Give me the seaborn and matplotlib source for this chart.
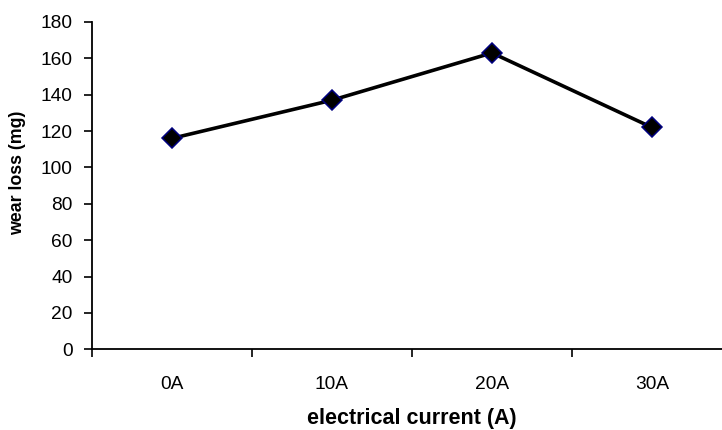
import matplotlib
matplotlib.use("Agg")
import matplotlib.pyplot as plt
import seaborn as sns
import pandas as pd
from matplotlib.ticker import FixedLocator

currents = ["0A", "10A", "20A", "30A"]
wear_loss = [116, 137, 163, 122]
y_ticks = [0, 20, 40, 60, 80, 100, 120, 140, 160, 180]

df = pd.DataFrame({"current": currents, "wear": wear_loss})

sns.set_style("white")
plt.rcParams["font.family"] = ["Liberation Sans", "DejaVu Sans"]
plt.rcParams["text.color"] = "black"
plt.rcParams["xtick.color"] = "black"
plt.rcParams["ytick.color"] = "black"
plt.rcParams["axes.labelcolor"] = "black"

fig = plt.figure(figsize=(7.22, 4.30), dpi=100)
ax = fig.add_axes([92 / 722, 80.7 / 430, 640 / 722, 327.3 / 430])

sns.lineplot(data=df, x="current", y="wear", ax=ax, color="black",
             linewidth=2.6, marker="D", markersize=10.5,
             markerfacecolor="black", markeredgecolor="#000080",
             markeredgewidth=1.1, sort=False)

ax.set_xlim(-0.5, 3.5)
ax.set_ylim(0, 180)
ax.set_yticks(y_ticks)
ax.set_xticks(range(len(currents)))
ax.set_xticklabels(currents)
ax.xaxis.set_minor_locator(FixedLocator([-0.5, 0.5, 1.5, 2.5, 3.5]))

ax.tick_params(axis="x", which="major", length=0, pad=19, labelsize=13.8)
ax.tick_params(axis="x", which="minor", length=6, width=1.2,
               direction="out", bottom=True, color="black")
ax.tick_params(axis="y", which="major", length=6, width=1.2,
               direction="out", left=True, color="black", pad=8,
               labelsize=13.8)

for side in ["top", "right"]:
    ax.spines[side].set_visible(False)
for side in ["left", "bottom"]:
    ax.spines[side].set_color("black")
    ax.spines[side].set_linewidth(1.3)

ax.set_xlabel("electrical current (A)", fontsize=15.5, fontweight="bold")
ax.set_ylabel("wear loss (mg)", fontsize=12.8, fontweight="bold")
ax.xaxis.label.set_va("center")
ax.xaxis.set_label_coords(0.5, -0.21)
ax.yaxis.label.set_va("center")
ax.yaxis.label.set_ha("center")
ax.yaxis.set_label_coords(-0.117, 0.54)

fig.savefig("out.png", dpi=100)
